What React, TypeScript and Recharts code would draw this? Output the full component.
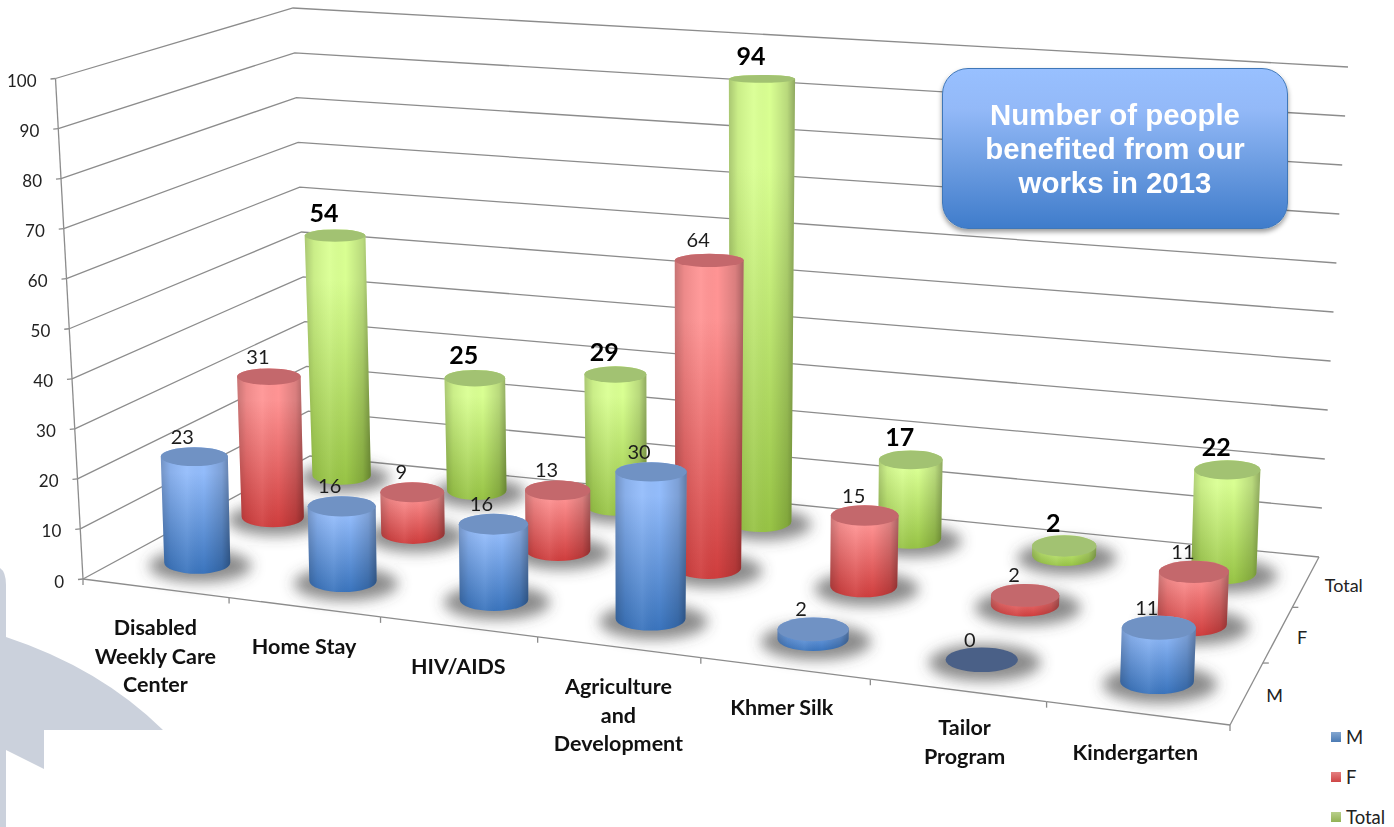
import React from "react";
import { BarChart, Bar, XAxis, YAxis, Legend, CartesianGrid } from "recharts";

// ---------- data ----------
const categoryLines = [
  ["Disabled", "Weekly Care", "Center"],
  ["Home Stay"],
  ["HIV/AIDS"],
  ["Agriculture", "and", "Development"],
  ["Khmer Silk"],
  ["Tailor", "Program"],
  ["Kindergarten"],
];
const categories = categoryLines.map((l) => l.join(" "));
const maleValues = [23, 16, 16, 30, 2, 0, 11];
const femaleValues = [31, 9, 13, 64, 15, 2, 11];
const totalValues = [54, 25, 29, 94, 17, 2, 22];
const yTicks = [0, 10, 20, 30, 40, 50, 60, 70, 80, 90, 100];
const seriesNames = ["M", "F", "Total"];
const titleLines = ["Number of people", "benefited from our", "works in 2013"];

const rows = categories.map((name, i) => ({
  name,
  M: maleValues[i],
  F: femaleValues[i],
  Total: totalValues[i],
}));

// ---------- layout ----------
const W = 1394;
const H = 827;
const PLOT = { left: 83, right: 1230, top: 78.5, bottom: 579 };
const BAR_SIZE = 66;
const DEPTH = [0.17, 0.5, 0.83];
const C_FL = [83, 579];
const C_FR = [1230, 725];
const C_BR = [1319, 557];
const C_BL = [310, 448];
const WALL_BL = [310, 456];
const TOP_FL = [55.5, 78.5];
const TOP_BL = [293, 8];
const TOP_BR = [1348, 67];
const LABEL_DX = [0, 0, 0, 0, -3, 7, -2];
const LABEL_DY = [0, 0, 0, 0, 0, -2, 0];

const COLORS = {
  M: { base: "#4f81bd", top: "#93bcfb", bottom: "#3a74bd", cap: "#7092c4", zero: "#4a6087" },
  F: { base: "#d9494a", top: "#ff9494", bottom: "#cf3d3d", cap: "#c4686c", zero: "#8a4a4a" },
  Total: { base: "#9bbb59", top: "#d9ff92", bottom: "#97c345", cap: "#a2c272", zero: "#74884a" },
};

// floor projection: unit square -> screen quad
const homography = (() => {
  const [x0, y0] = C_FL, [x1, y1] = C_FR, [x2, y2] = C_BR, [x3, y3] = C_BL;
  const dx1 = x1 - x2, dx2 = x3 - x2, sx = x0 - x1 + x2 - x3;
  const dy1 = y1 - y2, dy2 = y3 - y2, sy = y0 - y1 + y2 - y3;
  const den = dx1 * dy2 - dx2 * dy1;
  const g = (sx * dy2 - dx2 * sy) / den;
  const h = (dx1 * sy - sx * dy1) / den;
  return { a: x1 - x0 + g * x1, b: x3 - x0 + h * x3, c: x0, d: y1 - y0 + g * y1, e: y3 - y0 + h * y3, f: y0, g, h };
})();
const floorPoint = (u: number, v: number) => {
  const m = homography;
  const w = m.g * u + m.h * v + 1;
  return [(m.a * u + m.b * v + m.c) / w, (m.d * u + m.e * v + m.f) / w];
};
const lerp = (p: number[], q: number[], t: number) => [p[0] + (q[0] - p[0]) * t, p[1] + (q[1] - p[1]) * t];
const toU = (px: number) => (px - PLOT.left) / (PLOT.right - PLOT.left);
const ellipseRy = (y: number) => 2.8 + 0.0145 * y;

const heightFactor = (u: number, depth: number) => {
  const mid = Math.max(0, 1 - ((u - 0.5) / 0.12) ** 2);
  return (0.9 + 0.06 * u + 0.03 * mid) * (1 - 0.06 * (depth - 0.5));
};

const geometry = (u: number, depth: number, halfWidth: number, barPx: number) => {
  const [cx, baseY] = floorPoint(u, depth);
  const r = halfWidth * (1.02 + 0.14 * u) * (1 - 0.17 * depth);
  const hPx = barPx * heightFactor(u, depth);
  const capY = baseY - hPx;
  const capX = cx + (hPx / 4.6) * (-0.15 + 0.33 * u);
  return { cx, baseY, r, hPx, capX, capY, rTop: r + 0.005 * hPx };
};

// ---------- custom marks ----------
const Cylinder = (seriesIdx: number) => (props: any) => {
  const { x, width, height, index } = props;
  const key = seriesNames[seriesIdx] as keyof typeof COLORS;
  const value = [maleValues, femaleValues, totalValues][seriesIdx][index];
  const g = geometry(toU(x + width / 2), DEPTH[seriesIdx], width / 2, height);
  const c = COLORS[key];
  const ryB = ellipseRy(g.baseY);
  const ryT = ellipseRy(g.capY);
  const body = `M${g.cx - g.r},${g.baseY} L${g.capX - g.rTop},${g.capY} A${g.rTop},${ryT} 0 0 1 ${g.capX + g.rTop},${g.capY} L${g.cx + g.r},${g.baseY} A${g.r},${ryB} 0 0 1 ${g.cx - g.r},${g.baseY} Z`;
  const bold = key === "Total";
  return (
    <g>
      {value > 0 && <path d={body} fill={`url(#body-${key})`} />}
      {value > 0 && <path d={body} fill="url(#edge)" />}
      <ellipse cx={g.capX} cy={g.capY} rx={g.rTop} ry={ryT} fill={value > 0 ? c.cap : c.zero} />
      <text
        x={g.capX - (seriesIdx === 0 ? 12 : 11)}
        y={g.capY - (bold ? 24 : 21)}
        textAnchor="middle"
        dominantBaseline="central"
        fontFamily="Lato"
        fontWeight={bold ? 700 : 400}
        fontSize={bold ? 25 : 20}
        fill={bold ? "#000" : "#1c1c1c"}
      >
        {value}
      </text>
    </g>
  );
};

const ShadowLayer = (props: any) => {
  const { x, width, index } = props;
  const u = toU(x + width / 2);
  const vals = [maleValues, femaleValues, totalValues];
  return (
    <g filter="url(#blur)">
      {DEPTH.map((d, s) => {
        const g = geometry(u, d, width / 2, vals[s][index]);
        return (
          <ellipse
            key={s}
            cx={g.cx + 3}
            cy={g.baseY + 3}
            rx={g.r * 1.55}
            ry={ellipseRy(g.baseY) * 1.5}
            fill="#4a4a4a"
            opacity={0.64}
          />
        );
      })}
    </g>
  );
};

const wallColor = "#8c8c8c";
const levelOf = (y: number) => (PLOT.bottom - y) / (PLOT.bottom - PLOT.top);

const WallLine = (props: any) => {
  const t = levelOf(props.y1);
  const a = lerp(C_FL, TOP_FL, t);
  const b = lerp(WALL_BL, TOP_BL, t);
  const c = lerp(C_BR, TOP_BR, t);
  return <polyline key={props.key} points={`${a} ${b} ${c}`} fill="none" stroke={wallColor} strokeWidth={1.3} />;
};

const YTick = (props: any) => {
  const { payload, y } = props;
  const t = levelOf(y);
  const a = lerp(C_FL, TOP_FL, t);
  const next = lerp(C_FL, TOP_FL, Math.min(1, t + 0.1));
  return (
    <g>
      {t < 0.999 && <line x1={a[0]} y1={a[1]} x2={next[0]} y2={next[1]} stroke={wallColor} strokeWidth={1.3} />}
      <line x1={a[0] - 5} y1={a[1] + 0.5} x2={a[0]} y2={a[1]} stroke={wallColor} strokeWidth={1.3} />
      <text x={a[0] - 19} y={a[1] + 2} textAnchor="end" dominantBaseline="central" fontFamily="Lato" fontSize={17} fill="#222">
        {payload.value}
      </text>
    </g>
  );
};

const XTick = (props: any) => {
  const { x, index } = props;
  const n = categories.length;
  const p = floorPoint(index / n, 0);
  const q = floorPoint((index + 1) / n, 0);
  const edge = floorPoint(toU(x), 0);
  return (
    <g>
      <line x1={p[0]} y1={p[1]} x2={q[0]} y2={q[1]} stroke={wallColor} strokeWidth={1.3} />
      <line x1={q[0]} y1={q[1]} x2={q[0]} y2={q[1] + 6} stroke={wallColor} strokeWidth={1.3} />
      {index === 0 && <line x1={p[0]} y1={p[1]} x2={p[0]} y2={p[1] + 6} stroke={wallColor} strokeWidth={1.3} />}
      {categoryLines[index].map((line, i) => (
        <text
          key={i}
          x={edge[0] + LABEL_DX[index]}
          y={edge[1] + 39 + LABEL_DY[index] + i * 28.5}
          textAnchor="middle"
          dominantBaseline="central"
          fontFamily="Lato"
          fontWeight={700}
          fontSize={21.5}
          fill="#111"
        >
          {line}
        </text>
      ))}
    </g>
  );
};

const SideAxis = () => {
  const a = floorPoint(1, 0);
  const b = floorPoint(1, 1);
  return (
    <g>
      <line x1={a[0]} y1={a[1]} x2={b[0]} y2={b[1]} stroke={wallColor} strokeWidth={1.3} />
      {[1, 2].map((i) => {
        const p = floorPoint(1, i / 3);
        return <line key={i} x1={p[0]} y1={p[1]} x2={p[0] + 6} y2={p[1]} stroke={wallColor} strokeWidth={1.3} />;
      })}
      {seriesNames.map((s, i) => {
        const p = floorPoint(1, DEPTH[i]);
        return (
          <text key={s} x={p[0] + 19} y={p[1] + 2.5} dominantBaseline="central" fontFamily="Lato" fontSize={18} fill="#222">
            {s}
          </text>
        );
      })}
    </g>
  );
};

const LegendContent = (props: any) => {
  const items = (props.payload || []).filter((p: any) => seriesNames.includes(p.value));
  const ordered = seriesNames.map((s) => items.find((p: any) => p.value === s)).filter(Boolean);
  return (
    <div style={{ fontFamily: "Lato", fontSize: 18.5, color: "#222" }}>
      {ordered.map((p: any) => (
        <div key={p.value} style={{ display: "flex", alignItems: "center", height: 40 }}>
          <span
            style={{
              display: "inline-block",
              width: 10,
              height: 10,
              marginRight: 5,
              backgroundColor: p.color,
              backgroundImage: "linear-gradient(rgba(255,255,255,.3), rgba(0,0,0,.05))",
            }}
          />
          {p.value}
        </div>
      ))}
    </div>
  );
};

const Defs = () => (
  <defs>
    {seriesNames.map((s) => {
      const c = COLORS[s as keyof typeof COLORS];
      return (
        <linearGradient key={s} id={`body-${s}`} x1="0" y1="0" x2="0" y2="1">
          <stop offset="0" stopColor={c.top} />
          <stop offset="0.2" stopColor={c.top} />
          <stop offset="1" stopColor={c.bottom} />
        </linearGradient>
      );
    })}
    <linearGradient id="edge" x1="0" y1="0" x2="1" y2="0">
      <stop offset="0" stopColor="#000" stopOpacity={0.22} />
      <stop offset="0.14" stopColor="#000" stopOpacity={0.07} />
      <stop offset="0.38" stopColor="#fff" stopOpacity={0.06} />
      <stop offset="0.62" stopColor="#000" stopOpacity={0} />
      <stop offset="0.88" stopColor="#000" stopOpacity={0.15} />
      <stop offset="1" stopColor="#000" stopOpacity={0.34} />
    </linearGradient>
    <filter id="blur" x="-30%" y="-60%" width="160%" height="220%">
      <feGaussianBlur stdDeviation="7" />
    </filter>
  </defs>
);

export default function App() {
  return (
    <div style={{ position: "absolute", left: 0, top: 0, width: W, height: H, background: "#fff", overflow: "hidden" }}>
      <svg width={W} height={H} style={{ position: "absolute", left: 0, top: 0 }}>
        <path d="M0,568 Q6,572 6,585 L6,637 Q100,668 163,730 L44,730 L44,769 L6,750 L6,827 L0,827 Z" fill="#cbd1dc" />
      </svg>
      <div style={{ position: "absolute", left: 0, top: 0 }}>
        <BarChart
          width={W}
          height={H}
          data={rows}
          margin={{ top: PLOT.top, right: W - PLOT.right, bottom: H - PLOT.bottom - 1, left: PLOT.left - 1 }}
          barSize={BAR_SIZE}
          barGap={-BAR_SIZE}
        >
          <Defs />
          <CartesianGrid vertical={false} horizontal={WallLine} syncWithTicks />
          <YAxis width={1} domain={[0, 100]} ticks={yTicks} axisLine={false} tickLine={false} tick={YTick} interval={0} />
          <XAxis dataKey="name" height={1} axisLine={false} tickLine={false} tick={XTick} interval={0} />
          <SideAxis />
          <Bar dataKey="Total" name="shadow" legendType="none" isAnimationActive={false} shape={ShadowLayer} />
          <Bar dataKey="Total" name="Total" fill={COLORS.Total.base} isAnimationActive={false} shape={Cylinder(2)} />
          <Bar dataKey="F" name="F" fill={COLORS.F.base} isAnimationActive={false} shape={Cylinder(1)} />
          <Bar dataKey="M" name="M" fill={COLORS.M.base} isAnimationActive={false} shape={Cylinder(0)} />
          <Legend
            layout="vertical"
            align="center"
            verticalAlign="middle"
            content={LegendContent}
            wrapperStyle={{ left: 1331, top: 717, width: 63 }}
          />
        </BarChart>
      </div>
      <div
        style={{
          position: "absolute",
          left: 942,
          top: 68,
          width: 346,
          height: 161,
          boxSizing: "border-box",
          borderRadius: 26,
          border: "1px solid #3f77b8",
          background: "linear-gradient(#98c0ff 0%, #93b9f8 25%, #6a9be0 62%, #3f7ccb 100%)",
          boxShadow: "0 3px 5px rgba(0,0,0,.4)",
          display: "flex",
          flexDirection: "column",
          alignItems: "center",
          justifyContent: "center",
          fontFamily: "'Liberation Sans'",
          fontWeight: 700,
          fontSize: 29.4,
          lineHeight: "34px",
          color: "#fff",
        }}
      >
        {titleLines.map((l) => (
          <div key={l}>{l}</div>
        ))}
      </div>
    </div>
  );
}
